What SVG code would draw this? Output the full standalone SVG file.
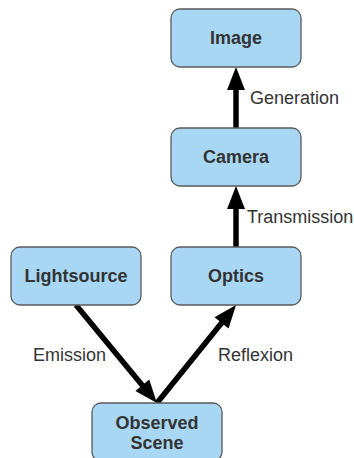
<svg xmlns="http://www.w3.org/2000/svg" width="354" height="458" viewBox="0 0 354 458">
<style>
.box{fill:#a8d7f4;stroke:#5a5a5a;stroke-width:1.3}
.t{font-family:"Liberation Sans",Arial,sans-serif;font-size:18px;font-weight:bold;fill:#333;text-anchor:middle}
.l{font-family:"Liberation Sans",Arial,sans-serif;font-size:18px;fill:#333}
.c{stroke:#000;stroke-width:5.5;fill:none}
</style>
<defs>
<marker id="ah" markerUnits="userSpaceOnUse" markerWidth="26" markerHeight="20" refX="8" refY="9" orient="auto" overflow="visible">
<path d="M0,0 L23,9 L0,18 Z" fill="#000"/>
</marker>
</defs>
<g id="connectors">
<line class="c" x1="236" y1="128" x2="236" y2="82" marker-end="url(#ah)"/>
<line class="c" x1="236" y1="247" x2="236" y2="201" marker-end="url(#ah)"/>
<line class="c" x1="76" y1="305" x2="147.4" y2="391.4" marker-end="url(#ah)"/>
<line class="c" x1="157" y1="403" x2="226.6" y2="316.7" marker-end="url(#ah)"/>
<text class="l" x="250" y="104">Generation</text>
<text class="l" x="247" y="223">Transmission</text>
<text class="l" x="33" y="361">Emission</text>
<text class="l" x="218" y="361">Reflexion</text>
</g>
<g id="image"><rect class="box" x="171" y="9" width="130" height="58" rx="9"/><text class="t" x="236" y="44">Image</text></g>
<g id="camera"><rect class="box" x="171" y="128" width="130" height="58" rx="9"/><text class="t" x="236" y="163">Camera</text></g>
<g id="optics"><rect class="box" x="171" y="247" width="130" height="58" rx="9"/><text class="t" x="236" y="282">Optics</text></g>
<g id="lightsource"><rect class="box" x="11" y="247" width="130" height="58" rx="9"/><text class="t" x="76" y="282">Lightsource</text></g>
<g id="observed-scene"><rect class="box" x="92" y="403" width="130" height="58" rx="9"/><text class="t" x="157" y="429">Observed</text><text class="t" x="157" y="449">Scene</text></g>
</svg>
